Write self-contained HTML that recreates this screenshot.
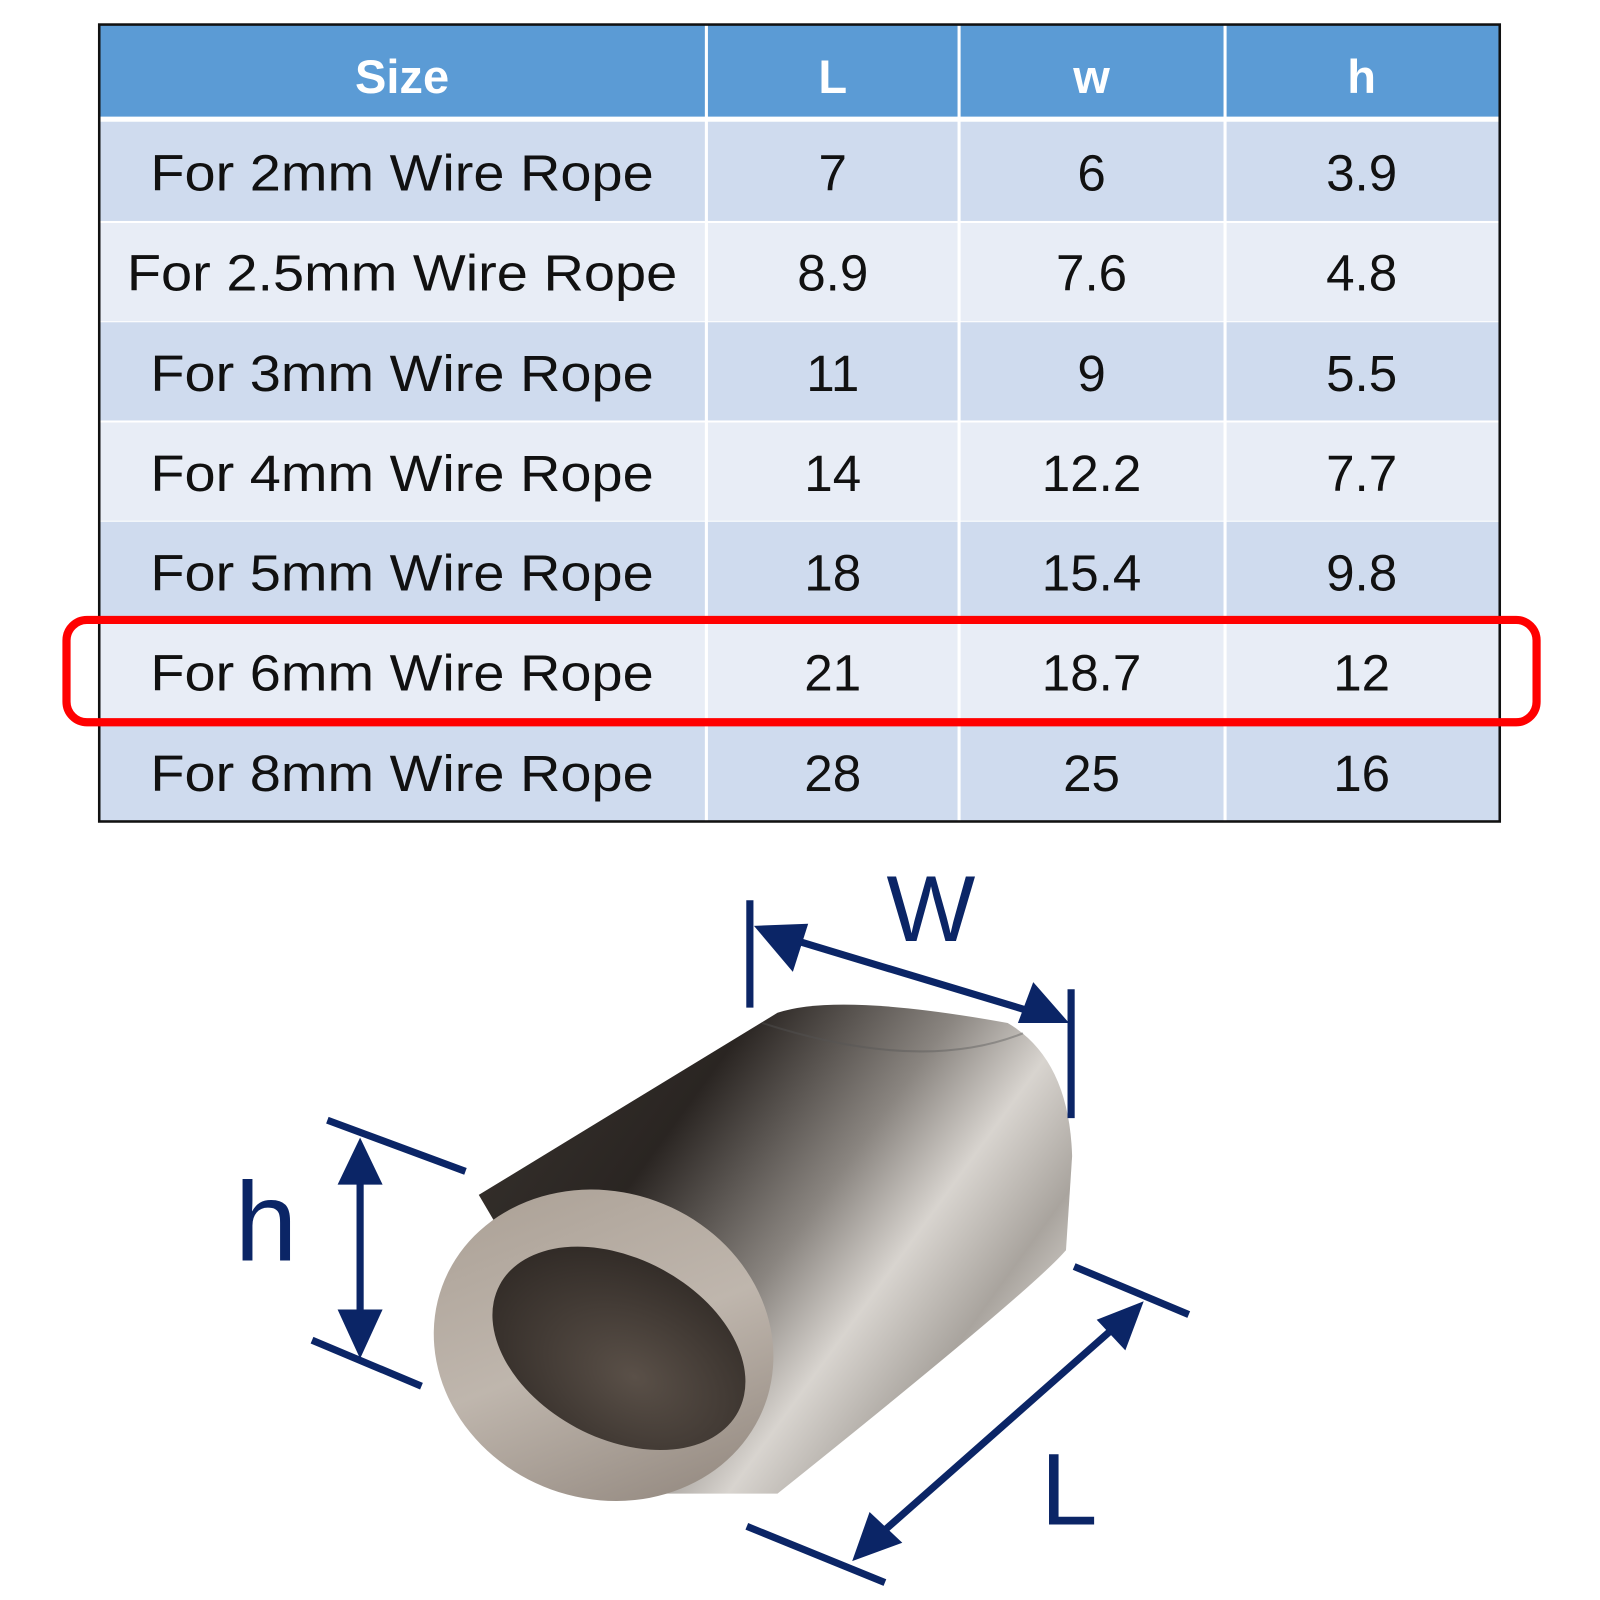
<!DOCTYPE html>
<html><head><meta charset="utf-8"><style>
html,body{margin:0;padding:0;background:#fff;width:1600px;height:1600px;overflow:hidden}
svg{display:block}
text{font-family:"Liberation Sans",sans-serif}
</style></head><body>
<svg width="1600" height="1600" viewBox="0 0 1564 1564" xmlns="http://www.w3.org/2000/svg">
<defs>
<linearGradient id="body" x1="0" y1="0" x2="1" y2="0.6">
<stop offset="0" stop-color="#3a3530"/><stop offset="0.35" stop-color="#2a2522"/><stop offset="0.6" stop-color="#8a8580"/><stop offset="0.75" stop-color="#d8d4cf"/><stop offset="0.9" stop-color="#a9a49e"/><stop offset="1" stop-color="#d0ccc7"/>
</linearGradient>
<linearGradient id="face" x1="0" y1="0" x2="1" y2="1">
<stop offset="0" stop-color="#a89d92"/><stop offset="0.5" stop-color="#bfb6ad"/><stop offset="1" stop-color="#8a7f76"/>
</linearGradient>
<radialGradient id="hole" cx="0.6" cy="0.6" r="0.7">
<stop offset="0" stop-color="#5a5048"/><stop offset="1" stop-color="#2e2824"/>
</radialGradient>
</defs>
<!-- table -->
<rect x="97" y="24" width="1369" height="779" fill="#fff"/>
<rect x="97" y="24" width="1369" height="90" fill="#5b9bd5"/>
<g fill="#cfdbee">
<rect x="97" y="119" width="1369" height="97"/>
<rect x="97" y="315" width="1369" height="96"/>
<rect x="97" y="510" width="1369" height="96"/>
<rect x="97" y="706" width="1369" height="97"/>
</g>
<g fill="#e8edf6">
<rect x="97" y="218" width="1369" height="96"/>
<rect x="97" y="413" width="1369" height="96"/>
<rect x="97" y="608" width="1369" height="97"/>
</g>
<g fill="#fff">
<rect x="689" y="24" width="3" height="779"/>
<rect x="936" y="24" width="3" height="779"/>
<rect x="1196" y="24" width="3" height="779"/>
</g>
<rect x="97" y="24" width="1369" height="779" fill="none" stroke="#111" stroke-width="2.5"/>
<g fill="#fff" font-weight="bold" font-size="46" text-anchor="middle">
<text x="393" y="91">Size</text><text x="814" y="91">L</text><text x="1067" y="91">w</text><text x="1331" y="91">h</text>
</g>
<g fill="#111" font-size="50" text-anchor="middle">
<text x="393" y="186" textLength="492" lengthAdjust="spacingAndGlyphs">For 2mm Wire Rope</text><text x="814" y="186">7</text><text x="1067" y="186">6</text><text x="1331" y="186">3.9</text>
<text x="393" y="284" textLength="538" lengthAdjust="spacingAndGlyphs">For 2.5mm Wire Rope</text><text x="814" y="284">8.9</text><text x="1067" y="284">7.6</text><text x="1331" y="284">4.8</text>
<text x="393" y="382" textLength="492" lengthAdjust="spacingAndGlyphs">For 3mm Wire Rope</text><text x="814" y="382">11</text><text x="1067" y="382">9</text><text x="1331" y="382">5.5</text>
<text x="393" y="480" textLength="492" lengthAdjust="spacingAndGlyphs">For 4mm Wire Rope</text><text x="814" y="480">14</text><text x="1067" y="480">12.2</text><text x="1331" y="480">7.7</text>
<text x="393" y="577" textLength="492" lengthAdjust="spacingAndGlyphs">For 5mm Wire Rope</text><text x="814" y="577">18</text><text x="1067" y="577">15.4</text><text x="1331" y="577">9.8</text>
<text x="393" y="675" textLength="492" lengthAdjust="spacingAndGlyphs">For 6mm Wire Rope</text><text x="814" y="675">21</text><text x="1067" y="675">18.7</text><text x="1331" y="675">12</text>
<text x="393" y="773" textLength="492" lengthAdjust="spacingAndGlyphs">For 8mm Wire Rope</text><text x="814" y="773">28</text><text x="1067" y="773">25</text><text x="1331" y="773">16</text>
</g>
<rect x="65" y="606" width="1437" height="100" rx="20" fill="none" stroke="#f00" stroke-width="8"/>
<!-- ferrule -->
<path d="M468,1168 L760,990 Q820,970 985,1000 Q1045,1035 1048,1130 L1042,1222 Q1010,1260 760,1460 L640,1460 Z" fill="url(#body)"/>
<path d="M745,1000 Q900,1050 1000,1010" fill="none" stroke="#555" stroke-width="2" opacity="0.4"/>
<ellipse cx="590" cy="1315" rx="168" ry="150" transform="rotate(20 590 1315)" fill="url(#face)"/>
<ellipse cx="605" cy="1318" rx="132" ry="88" transform="rotate(28 605 1318)" fill="url(#hole)"/>
<!-- dimension lines -->
<g stroke="#0b2566" stroke-width="7" fill="none">
<line x1="733" y1="880" x2="733" y2="985"/>
<line x1="1047" y1="967" x2="1047" y2="1093"/>
<line x1="770" y1="917" x2="1012" y2="990"/>
<line x1="320" y1="1095" x2="455" y2="1145"/>
<line x1="305" y1="1310" x2="412" y2="1355"/>
<line x1="352" y1="1140" x2="352" y2="1295"/>
<line x1="1050" y1="1238" x2="1162" y2="1285"/>
<line x1="730" y1="1492" x2="865" y2="1547"/>
<line x1="1090" y1="1297" x2="860" y2="1500"/>
</g>
<g fill="#0b2566">
<polygon points="737,905 790,903 775,950"/>
<polygon points="1045,1000 995,1000 1010,960"/>
<polygon points="352,1112 330,1158 374,1158"/>
<polygon points="352,1328 330,1280 374,1280"/>
<polygon points="1118,1272 1072,1290 1100,1320"/>
<polygon points="833,1526 850,1478 882,1508"/>
</g>
<g fill="#0b2566" font-size="92">
<text x="910" y="920" text-anchor="middle">W</text>
<text x="260" y="1232" text-anchor="middle" font-size="110">h</text>
<text x="1045" y="1490" text-anchor="middle" font-size="100">L</text>
</g>
</svg>
</body></html>
